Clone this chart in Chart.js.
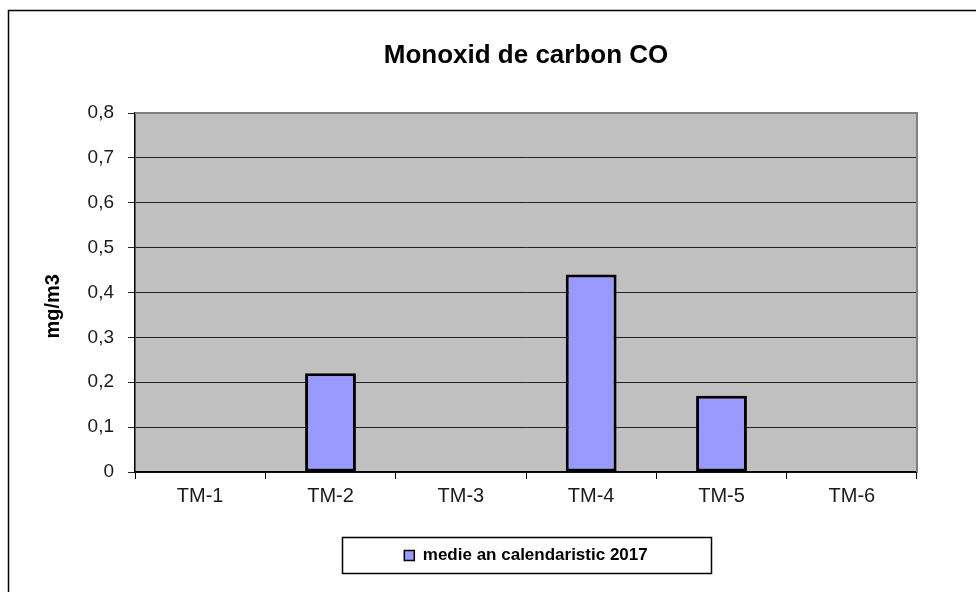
<!DOCTYPE html>
<html>
<head>
<meta charset="utf-8">
<script src="https://cdn.jsdelivr.net/npm/chart.js@4"></script>
<style>
  html, body { margin: 0; padding: 0; background: #fff; }
  #wrap { width: 976px; height: 592px; }
</style>
</head>
<body>
<div id="wrap"><canvas id="chart" width="976" height="592"></canvas></div>
<script>
// Data
const categories = ['TM-1', 'TM-2', 'TM-3', 'TM-4', 'TM-5', 'TM-6'];
const values2017 = [null, 0.22, null, 0.44, 0.17, null];
const seriesLabel = 'medie an calendaristic 2017';
const yMin = 0, yMax = 0.8, yStep = 0.1;

const FONT = '"Liberation Sans", Arial, sans-serif';

// gray plot background, darker top/right edge, outer frame and legend frame
const decor = {
  id: 'decor',
  beforeDraw(chart) {
    const { ctx, chartArea: a } = chart;
    ctx.save();
    ctx.fillStyle = '#c0c0c0';
    ctx.fillRect(a.left, a.top, a.right - a.left, a.bottom - a.top);
    ctx.restore();
  },
  afterDraw(chart) {
    const { ctx, chartArea: a } = chart;
    ctx.save();
    // plot edge top/right
    ctx.strokeStyle = '#808080';
    ctx.lineWidth = 2;
    ctx.beginPath();
    ctx.moveTo(a.left, a.top);
    ctx.lineTo(a.right, a.top);
    ctx.lineTo(a.right, a.bottom);
    ctx.stroke();
    // outer frame (top + left visible)
    ctx.strokeStyle = '#000';
    ctx.lineWidth = 1.5;
    ctx.beginPath();
    ctx.moveTo(8.5, 600);
    ctx.lineTo(8.5, 10.5);
    ctx.lineTo(980, 10.5);
    ctx.stroke();
    // legend frame
    const lg = chart.legend;
    if (lg) {
      const cx = (lg.left + lg.right) / 2;
      const w = 369;
      ctx.lineWidth = 1.5;
      ctx.strokeRect(Math.round(cx - w / 2) + 0.5, Math.round(lg.top) - 0.5, w, Math.round(lg.height));
    }
    ctx.restore();
  }
};

new Chart(document.getElementById('chart').getContext('2d'), {
  type: 'bar',
  data: {
    labels: categories,
    datasets: [{
      label: seriesLabel,
      data: values2017,
      backgroundColor: '#9999ff',
      borderColor: '#000',
      borderWidth: 3,
      borderSkipped: false,
      barPercentage: 0.39,
      categoryPercentage: 1,
    }],
  },
  options: {
    responsive: false,
    animation: false,
    layout: { padding: { left: 0, right: 59, top: 0, bottom: 18 } },
    plugins: {
      tooltip: { enabled: false },
      title: {
        display: true,
        fullSize: false,
        text: 'Monoxid de carbon CO',
        color: '#000',
        font: { family: FONT, size: 26, weight: 'bold', lineHeight: 1.2 },
        padding: { top: 40, bottom: 41.8 },
      },
      legend: {
        position: 'bottom',
        fullSize: false,
        labels: {
          color: '#000',
          font: { family: FONT, size: 17, weight: 'bold' },
          boxWidth: 10,
          boxHeight: 10,
          padding: 9,
          generateLabels: chart => [{
            text: seriesLabel,
            fillStyle: '#9999ff',
            strokeStyle: '#000',
            lineWidth: 1.5,
            datasetIndex: 0,
          }],
        },
      },
    },
    scales: {
      x: {
        offset: true,
        grid: {
          offset: true,
          drawOnChartArea: false,
          drawTicks: true,
          tickLength: 7,
          color: '#000',
        },
        border: { color: '#000', width: 1.5 },
        ticks: { color: '#1a1a1a', font: { family: FONT, size: 20 }, padding: 5 },
        afterFit: s => { s.height = 66; },
      },
      y: {
        min: yMin,
        max: yMax,
        grid: { color: '#222', lineWidth: 1, tickLength: 7, drawTicks: true },
        border: { color: '#000', width: 1.5 },
        ticks: {
          stepSize: yStep,
          color: '#1a1a1a',
          font: { family: FONT, size: 19 },
          padding: 14,
          callback: v => (v === 0 ? '0' : v.toFixed(1).replace('.', ',')),
        },
        title: {
          display: true,
          // trailing spaces push the rotated label a little below the axis middle, as in the source
          text: 'mg/m3     ',
          color: '#000',
          font: { family: FONT, size: 20, weight: 'bold' },
          padding: { top: 41, bottom: 0 },
        },
        afterFit: s => { s.width = 135; },
      },
    },
  },
  plugins: [decor],
});
</script>
</body>
</html>
